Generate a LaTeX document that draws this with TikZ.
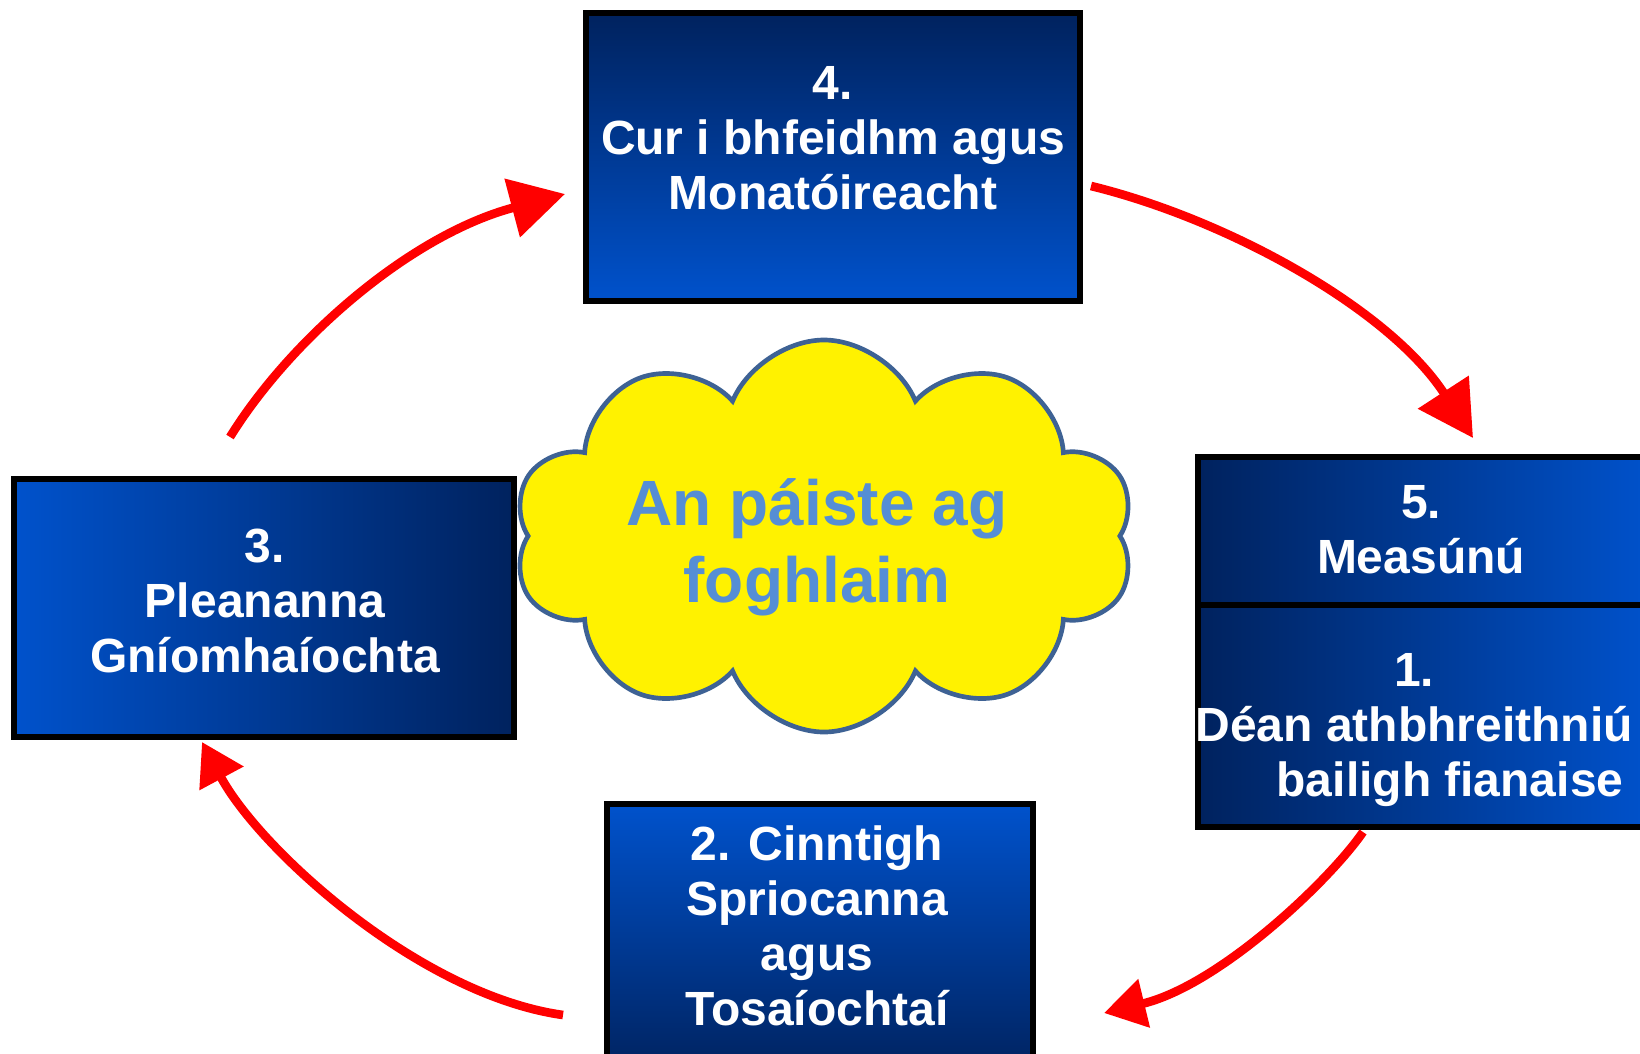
\documentclass[tikz,border=0pt]{standalone}
\usepackage{fontspec}
\setmainfont{Liberation Sans}
\usepackage{xcolor}
\usepackage{tikz}
\usetikzlibrary{shapes.symbols,arrows.meta}

\definecolor{navydark}{RGB}{0,34,94}
\definecolor{navylight}{RGB}{0,82,204}
\definecolor{cloudedge}{RGB}{62,98,148}
\definecolor{cloudtext}{RGB}{85,142,213}
\definecolor{flowred}{RGB}{255,0,0}

\begin{document}
\begin{tikzpicture}[x=0.75pt,y=0.75pt,yscale=-1,xscale=1,
    stagebox/.style={draw=black,line width=4.5pt,inner sep=0pt},
    stagetext/.style={text=white,align=center,font=\fontsize{36}{41.4}\selectfont\bfseries},
    flow/.style 2 args={draw=flowred,line width=6.5pt,-{Triangle[length=#1,width=#2]}}]
    \clip (0,0) rectangle (1640,1053);
    \fill[white] (0,0) rectangle (1640,1053);
    % stage boxes
    \node [stagebox,top color=navydark,bottom color=navylight,minimum width=370pt,minimum height=216pt] (b4) at (833,157) {};
    \node [stagebox,left color=navylight,right color=navydark,minimum width=375pt,minimum height=193pt] (b3) at (264,608) {};
    \node [stagebox,left color=navydark,right color=navylight,minimum width=340pt,minimum height=111pt] (b5) at (1425,531) {};
    \node [stagebox,left color=navydark,right color=navylight,minimum width=340pt,minimum height=167pt] (b1) at (1425,716) {};
    \node [stagebox,top color=navylight,bottom color=navydark,minimum width=319pt,minimum height=204pt] (b2) at (820,940) {};
    \node [stagetext] (t4) at (833,138) {4.\\Cur i bhfeidhm agus\\Monatóireacht};
    \node [stagetext] (t3) at (265,601) {3.\\Pleananna\\Gníomhaíochta};
    \node [stagetext] (t5) at (1421,530) {5.\\Measúnú};
    \node [stagetext] (t1) at (1414,730) {1.\\Déan athbhreithniú\\\hspace*{1.5em}bailigh fianaise};
    \node [stagetext] (t2) at (817,926) {2. Cinntigh\\Spriocanna\\agus\\Tosaíochtaí};
    % cloud in the middle
    \node [cloud,cloud puffs=10,cloud puff arc=135,cloud ignores aspect,draw=cloudedge,fill=yellow,line width=3.5pt,minimum width=466pt,minimum height=294pt] (child) at (824,536) {};
    \node [align=center,text=cloudtext,font=\fontsize{48}{57.6}\selectfont\bfseries] (childtext) at (817,547) {An páiste ag\\foghlaim};
    % cycle arrows
    \coordinate (s1) at (230,437);
    \coordinate (e1) at (565,194);
    \coordinate (s2) at (1091,186);
    \coordinate (e2) at (1473,438);
    \coordinate (s3) at (1363,832);
    \coordinate (e3) at (1104,1013);
    \coordinate (s4) at (563,1015);
    \coordinate (e4) at (202,742);
    \draw [flow={41pt}{44pt}] (s1) .. controls (290,340) and (410,235) .. (e1);
    \draw [flow={41pt}{44pt}] (s2) .. controls (1230,220) and (1390,310) .. (e2);
    \draw [flow={31pt}{36pt}] (s3) .. controls (1330,880) and (1220,985) .. (e3);
    \draw [flow={31pt}{36pt}] (s4) .. controls (420,995) and (260,850) .. (e4);
\end{tikzpicture}
\end{document}
